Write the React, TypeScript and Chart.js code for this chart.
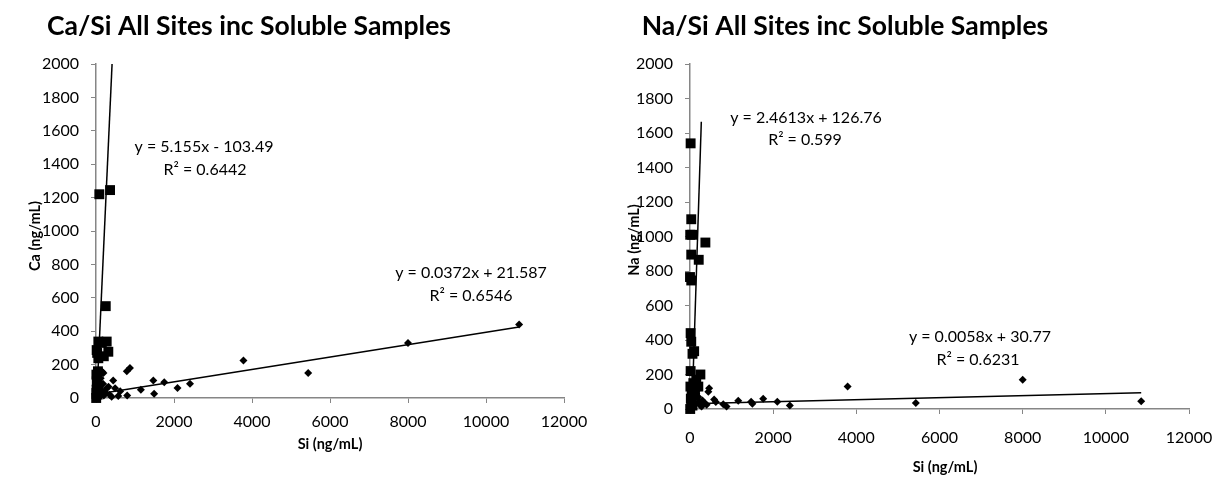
import React, { useEffect, useRef } from "react";
import { Chart, registerables } from "chart.js";
Chart.register(...registerables);

// ---------- data ----------
const caSolX = [85, 360, 250, 60, 274, 17, 316, 60, 150, 200, 30, 10, 20, 15, 40, 5, 25, 60, 10, 50];
const caSolY = [1220, 1245, 550, 338, 338, 287, 277, 238, 330, 250, 270, 140, 100, 50, 20, 0, 120, 70, 30, 160];
const caX = [10850, 8000, 5440, 3780, 2410, 2090, 1750, 1490, 1470, 1150, 870, 790, 800, 620, 570, 490, 440, 400, 320, 280, 190, 160, 120, 90, 60, 40, 30, 20, 10, 250, 200, 150, 100, 350, 50, 80, 130, 220, 180, 70];
const caY = [440, 330, 150, 225, 85, 60, 95, 25, 105, 50, 180, 160, 15, 40, 12, 58, 105, 8, 68, 60, 150, 157, 118, 90, 40, 20, 70, 110, 5, 30, 15, 45, 60, 20, 80, 10, 25, 35, 85, 100];
const caSolTrendX = [19, 412];
const caSolTrendY = [0, 2000];
const caTrendX = [0, 10850];
const caTrendY = [22, 425];

const naSolX = [15, 30, 5, 50, 370, 30, 210, 0, 30, 15, 30, 60, 100, 15, 250, 10, 40, 80, 120, 20, 60, 150, 5, 30, 200, 100];
const naSolY = [1540, 1100, 1010, 1010, 965, 895, 865, 765, 745, 440, 390, 320, 335, 220, 200, 130, 100, 150, 80, 60, 20, 170, 0, 40, 130, 120];
const naX = [10850, 8000, 5430, 3790, 2400, 2100, 1760, 1500, 1470, 1160, 880, 800, 620, 580, 460, 440, 350, 300, 250, 200, 150, 120, 100, 80, 60, 40, 20, 10, 180, 280, 220, 400];
const naY = [45, 170, 35, 130, 20, 42, 60, 30, 42, 48, 15, 28, 40, 55, 120, 100, 35, 50, 20, 70, 90, 30, 60, 10, 40, 80, 20, 5, 110, 15, 45, 25];
const naSolTrendX = [48, 272];
const naSolTrendY = [0, 1665];
const naTrendX = [0, 10850];
const naTrendY = [31, 94];

const xMin = 0, xMax = 12000, xStep = 2000;
const yMin = 0, yMax = 2000, yStep = 200;

const caTitle = "Ca/Si All Sites inc Soluble Samples";
const naTitle = "Na/Si All Sites inc Soluble Samples";
const caYLabel = "Ca (ng/mL)";
const naYLabel = "Na (ng/mL)";
const xLabel = "Si (ng/mL)";
const caSolEq = ["y = 5.155x - 103.49", "R² = 0.6442"];
const caEq = ["y = 0.0372x + 21.587", "R² = 0.6546"];
const naSolEq = ["y = 2.4613x + 126.76", "R² = 0.599"];
const naEq = ["y = 0.0058x + 30.77", "R² = 0.6231"];

// ---------- helpers ----------
const zip = (xs: number[], ys: number[]) => xs.map((x, i) => ({ x, y: ys[i] }));
const FAM = "Lato, 'Open Sans', sans-serif";
const AXIS = "#868686";

const textPlugin = {
  id: "texts",
  afterDraw(chart: any, _args: any, opts: any) {
    const ctx = chart.ctx;
    for (const t of opts.items || []) {
      ctx.save();
      ctx.font = t.font;
      ctx.fillStyle = "#000";
      ctx.textAlign = "center";
      ctx.textBaseline = "middle";
      ctx.translate(t.x, t.y);
      if (t.rotate) ctx.rotate(-Math.PI / 2);
      ctx.fillText(t.text, 0, 0);
      ctx.restore();
    }
  },
};

function makeConfig(p: any) {
  const tickFont = { family: FAM, size: 16 };
  return {
    type: "scatter",
    data: {
      datasets: [
        {
          data: zip(p.solX, p.solY),
          pointStyle: "rect",
          pointRadius: 7,
          backgroundColor: "#000",
          borderWidth: 0,
          clip: false,
        },
        {
          data: zip(p.x, p.y),
          pointStyle: "rectRot",
          pointRadius: 4,
          backgroundColor: "#000",
          borderWidth: 0,
          clip: false,
        },
        {
          data: zip(p.solTX, p.solTY),
          showLine: true,
          pointRadius: 0,
          borderColor: "#000",
          borderWidth: 1.5,
          clip: false,
        },
        {
          data: zip(p.tX, p.tY),
          showLine: true,
          pointRadius: 0,
          borderColor: "#000",
          borderWidth: 1.5,
          clip: false,
        },
      ],
    },
    options: {
      responsive: false,
      animation: false,
      events: [],
      layout: { padding: p.padding },
      plugins: {
        legend: { display: false },
        tooltip: { enabled: false },
        title: { display: false },
        texts: { items: p.texts },
      },
      scales: {
        x: {
          type: "linear",
          min: xMin,
          max: xMax,
          ticks: {
            stepSize: xStep,
            color: "#000",
            font: tickFont,
            padding: p.xPad,
            maxRotation: 0,
            callback: (v: number) => String(v),
          },
          grid: { display: true, drawOnChartArea: false, drawTicks: true, tickLength: 5, color: AXIS, lineWidth: 1 },
          border: { display: true, color: AXIS, width: 1.5 },
          afterFit: (s: any) => { s.height = 40; },
        },
        y: {
          type: "linear",
          min: yMin,
          max: yMax,
          ticks: {
            stepSize: yStep,
            color: "#000",
            font: tickFont,
            padding: p.yPad,
            callback: (v: number) => String(v),
          },
          grid: { display: true, drawOnChartArea: false, drawTicks: true, tickLength: 5, color: AXIS, lineWidth: 1 },
          border: { display: true, color: AXIS, width: 1.5 },
          afterFit: (s: any) => { s.width = 60; },
        },
      },
    },
    plugins: [textPlugin],
  };
}

const titleFont = `bold 26.5px ${FAM}`;
const axisFont = `bold 14.5px ${FAM}`;
const eqFont = `16px ${FAM}`;

const leftParams = {
  solX: caSolX, solY: caSolY, x: caX, y: caY,
  solTX: caSolTrendX, solTY: caSolTrendY, tX: caTrendX, tY: caTrendY,
  padding: { left: 36, right: 50, top: 64, bottom: 50 },
  xPad: 9, yPad: 12,
  texts: [
    { text: caTitle, x: 249, y: 26, font: titleFont },
    { text: caYLabel, x: 35, y: 236, font: axisFont, rotate: true },
    { text: xLabel, x: 330, y: 444, font: axisFont },
    { text: caSolEq[0], x: 204, y: 147, font: eqFont },
    { text: caSolEq[1], x: 205, y: 170, font: eqFont },
    { text: caEq[0], x: 471, y: 273, font: eqFont },
    { text: caEq[1], x: 471, y: 296, font: eqFont },
  ],
};

const rightParams = {
  solX: naSolX, solY: naSolY, x: naX, y: naY,
  solTX: naSolTrendX, solTY: naSolTrendY, tX: naTrendX, tY: naTrendY,
  padding: { left: 16, right: 39, top: 64, bottom: 39 },
  xPad: 14, yPad: 12,
  texts: [
    { text: naTitle, x: 231, y: 26, font: titleFont },
    { text: naYLabel, x: 20, y: 240, font: axisFont, rotate: true },
    { text: xLabel, x: 331, y: 467, font: axisFont },
    { text: naSolEq[0], x: 192, y: 118, font: eqFont },
    { text: naSolEq[1], x: 191, y: 140, font: eqFont },
    { text: naEq[0], x: 366, y: 337, font: eqFont },
    { text: naEq[1], x: 364, y: 360, font: eqFont },
  ],
};

function ChartBox({ params, left }: { params: any; left: number }) {
  const ref = useRef<HTMLCanvasElement>(null);
  useEffect(() => {
    if (!ref.current) return;
    const chart = new Chart(ref.current, makeConfig(params) as any);
    return () => chart.destroy();
  }, []);
  return (
    <div style={{ position: "absolute", left, top: 0, width: 614, height: 488 }}>
      <canvas ref={ref} width={614} height={488} style={{ width: 614, height: 488, display: "block" }} />
    </div>
  );
}

export default function App() {
  return (
    <div style={{ position: "fixed", left: 0, top: 0, width: 1228, height: 488, background: "#fff" }}>
      <ChartBox params={leftParams} left={0} />
      <ChartBox params={rightParams} left={614} />
    </div>
  );
}
